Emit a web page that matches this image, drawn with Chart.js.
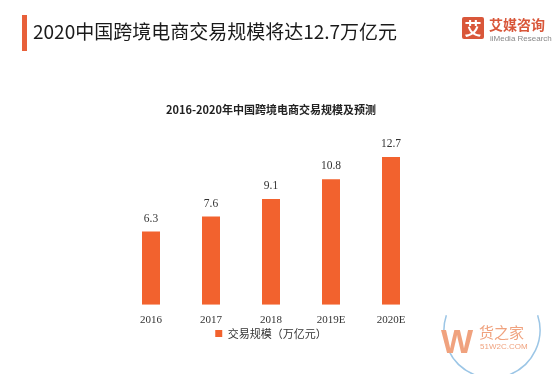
<!DOCTYPE html>
<html>
<head>
<meta charset="utf-8">
<script src="https://cdn.jsdelivr.net/npm/chart.js@4.4.1/dist/chart.umd.min.js"></script>
<style>
  body { margin: 0; background: #fff; font-family: "Noto Sans CJK SC", sans-serif; }
  #wrap { position: relative; width: 560px; height: 374px; overflow: hidden; }
  #chart { position: absolute; left: 0; top: 0; }
  .bar { position: absolute; left: 22px; top: 15px; width: 5px; height: 36px; background: #e8603a; }
  .head { position: absolute; left: 33px; top: 17px; font-size: 19px; color: #1a1a1a; line-height: 28px; }
  .sub { position: absolute; left: 0; width: 542px; top: 101px; text-align: center; font-size: 11px; font-weight: bold; color: #222; }
  .logo-box { position: absolute; left: 462px; top: 17px; width: 22px; height: 22px; background: #d9573a; color: #fff;
              font-size: 17px; line-height: 22px; text-align: center; font-weight: bold; border-radius: 2px; }
  .logo-cn { position: absolute; left: 489px; top: 14px; font-size: 14px; color: #d9573a; font-weight: bold; }
  .logo-en { position: absolute; left: 490px; top: 34px; font-size: 8px; color: #888; font-family: "Liberation Sans", sans-serif; }
  .wm-w { position: absolute; left: 441px; top: 322px; font-size: 34px; font-weight: bold; color: #f0a27e; font-family: "Liberation Sans", sans-serif; }
  .wm-cn { position: absolute; left: 479px; top: 321px; font-size: 15px; color: #f0a27e; }
  .wm-en { position: absolute; left: 480px; top: 342px; font-size: 8px; color: #f0a27e; font-family: "Liberation Sans", sans-serif; }
</style>
</head>
<body>
<div id="wrap">
  <canvas id="chart" width="560" height="374"></canvas>
  <div class="bar"></div>
  <div class="head">2020中国跨境电商交易规模将达12.7万亿元</div>
  <div class="logo-box">艾</div>
  <div class="logo-cn">艾媒咨询</div>
  <div class="logo-en">iiMedia Research</div>
  <div class="sub">2016-2020年中国跨境电商交易规模及预测</div>
  <div class="wm-w">W</div>
  <div class="wm-cn">货之家</div>
  <div class="wm-en">51W2C.COM</div>
</div>
<script>
var years = ['2016', '2017', '2018', '2019E', '2020E'];
var tradeScale = [6.3, 7.6, 9.1, 10.8, 12.7];
var seriesName = '交易规模（万亿元）';

// value labels above each bar
var valueLabels = {
    id: 'valueLabels',
    afterDatasetsDraw: function (chart) {
        var ctx = chart.ctx;
        var meta = chart.getDatasetMeta(0);
        ctx.save();
        ctx.font = '11.5px "Liberation Serif", serif';
        ctx.fillStyle = '#333';
        ctx.textAlign = 'center';
        ctx.textBaseline = 'bottom';
        meta.data.forEach(function (bar, i) {
            ctx.fillText(tradeScale[i].toFixed(1), bar.x, bar.y - 7);
        });
        ctx.restore();
    }
};

// laurel-ish arcs for the watermark
var laurel = {
    id: 'laurel',
    afterDraw: function (chart) {
        var ctx = chart.ctx;
        ctx.save();
        ctx.strokeStyle = '#9cc6e6';
        ctx.lineWidth = 1.5;
        ctx.beginPath();
        ctx.arc(492, 330, 48, Math.PI * 0.62, Math.PI * 1.1);
        ctx.stroke();
        ctx.beginPath();
        ctx.arc(492, 330, 48, Math.PI * 1.9, Math.PI * 0.38 + Math.PI * 2);
        ctx.stroke();
        ctx.restore();
    }
};

var ctx = document.getElementById('chart').getContext('2d');
new Chart(ctx, {
    type: 'bar',
    data: {
        labels: years,
        datasets: [{
            label: seriesName,
            data: tradeScale,
            backgroundColor: '#f2622e',
            barPercentage: 0.6,
            categoryPercentage: 0.5
        }]
    },
    options: {
        responsive: false,
        animation: false,
        layout: { padding: { left: 121, right: 139, top: 142, bottom: 25 } },
        plugins: {
            legend: {
                position: 'bottom',
                labels: {
                    boxWidth: 7,
                    boxHeight: 7,
                    padding: 0,
                    color: '#333',
                    font: { size: 11, family: '"Noto Sans CJK SC", sans-serif' }
                }
            },
            tooltip: { enabled: false }
        },
        scales: {
            x: {
                grid: { display: false },
                border: { display: false },
                ticks: {
                    color: '#333',
                    padding: 1,
                    font: { size: 11, family: '"Liberation Serif", serif' }
                }
            },
            y: {
                display: false,
                min: 0,
                max: 14
            }
        }
    },
    plugins: [valueLabels, laurel]
});
</script>
</body>
</html>
